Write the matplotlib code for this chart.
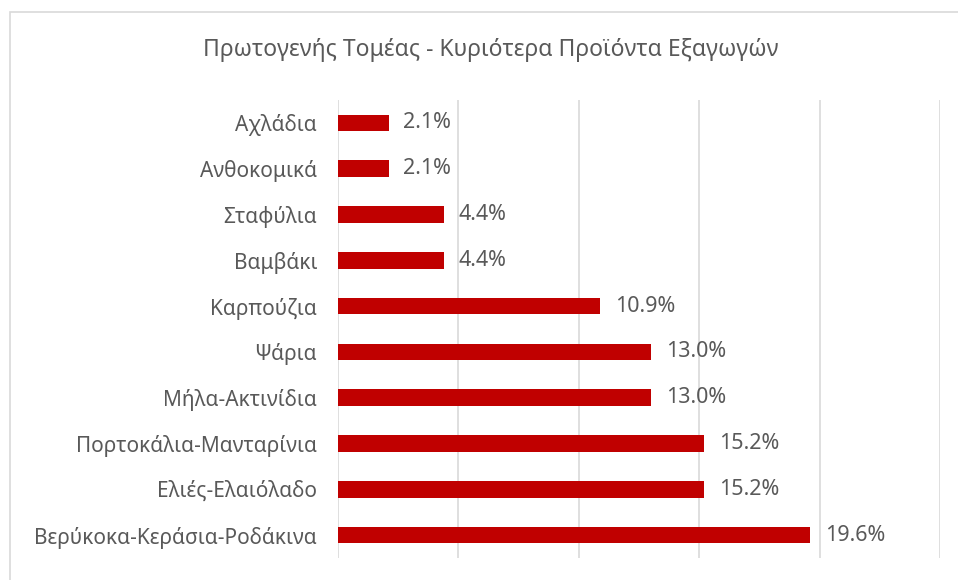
import matplotlib
matplotlib.use("Agg")
import matplotlib.pyplot as plt
from matplotlib.patches import Rectangle

categories = ["Αχλάδια", "Ανθοκομικά", "Σταφύλια", "Βαμβάκι", "Καρπούζια",
              "Ψάρια", "Μήλα-Ακτινίδια", "Πορτοκάλια-Μανταρίνια",
              "Ελιές-Ελαιόλαδο", "Βερύκοκα-Κεράσια-Ροδάκινα"]
values = [2.1, 2.1, 4.4, 4.4, 10.9, 13.0, 13.0, 15.2, 15.2, 19.6]
title = "Πρωτογενής Τομέας - Κυριότερα Προϊόντα Εξαγωγών"

plt.rcParams['font.family'] = ['Noto Sans', 'DejaVu Sans']
W, H = 958, 580
fig = plt.figure(figsize=(W / 100, H / 100), dpi=100)
fig.patch.set_facecolor("white")

# chart border
fig.patches.append(Rectangle((10 / W, -0.1), 1.2, 1 - 12 / H + 0.1,
                             transform=fig.transFigure, fill=False,
                             edgecolor="#D9D9D9", linewidth=1.2))

ax = fig.add_axes([338 / W, 1 - 558 / H, (940 - 338) / W, (558 - 100) / H])
y = list(range(len(categories)))
ax.barh(y, values, height=0.36, color="#C00000", zorder=3)
ax.set_xlim(0, 25)
ax.set_ylim(len(categories) - 0.5, -0.5)
ax.set_xticks([0, 5, 10, 15, 20, 25])
ax.xaxis.grid(True, color="#D9D9D9", linewidth=1.2, zorder=0)
ax.tick_params(axis="x", length=0, labelbottom=False)
ax.tick_params(axis="y", length=0, pad=15, labelsize=15, labelcolor="#595959")
ax.set_yticks(y)
ax.set_yticklabels(categories)
for s in ax.spines.values():
    s.set_visible(False)

for yi, v in zip(y, values):
    ax.text(v + 0.62, yi, f"{v:.1f}%", va="center", ha="left",
            fontsize=15.5, color="#595959")

fig.text(491 / W, 1 - 50 / H, title, ha="center", va="center",
         fontsize=16.5, color="#595959")

fig.savefig("out.png", dpi=100)
